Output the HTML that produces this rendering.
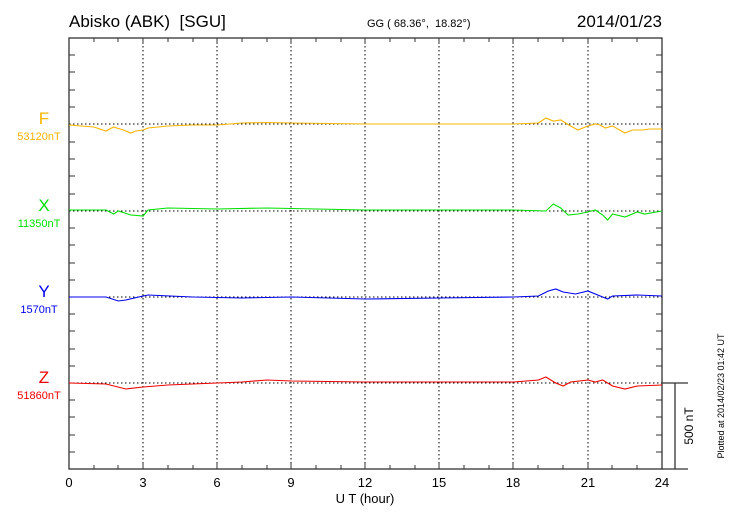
<!DOCTYPE html>
<html><head><meta charset="utf-8"><style>
body{margin:0;background:#fff}
svg{display:block;font-family:"Liberation Sans",sans-serif}
text{white-space:pre}
.s{fill:none;stroke-width:1.1;vector-effect:non-scaling-stroke}
</style></head><body>
<svg width="730" height="520" viewBox="0 0 730 520">
<text x="69" y="27" font-size="17" xml:space="preserve">Abisko (ABK)  [SGU]</text>
<text x="367" y="27" font-size="11" xml:space="preserve">GG ( 68.36°,  18.82°)</text>
<text x="662" y="27" font-size="17" text-anchor="end">2014/01/23</text>
<g stroke="#000" stroke-width="1" stroke-dasharray="1.5,2.5">
<line x1="143" y1="38" x2="143" y2="469"/><line x1="217" y1="38" x2="217" y2="469"/><line x1="291" y1="38" x2="291" y2="469"/><line x1="365" y1="38" x2="365" y2="469"/><line x1="439" y1="38" x2="439" y2="469"/><line x1="513" y1="38" x2="513" y2="469"/><line x1="588" y1="38" x2="588" y2="469"/>
<line x1="69" y1="124" x2="662" y2="124"/><line x1="69" y1="211" x2="662" y2="211"/><line x1="69" y1="297" x2="662" y2="297"/><line x1="69" y1="383" x2="662" y2="383"/>
</g>
<g stroke="#333" stroke-width="1.3" fill="none">
<rect x="69" y="38" width="593" height="431"/>
<line x1="662" y1="469" x2="688" y2="469"/>
<line x1="662" y1="383" x2="688" y2="383"/>
<line x1="675" y1="383" x2="675" y2="469"/>
</g>
<g stroke="#333" stroke-width="1">
<path d="M94 38v4M118 38v4M143 38v6M168 38v4M193 38v4M217 38v6M242 38v4M267 38v4M291 38v6M316 38v4M341 38v4M365 38v6M390 38v4M415 38v4M439 38v6M464 38v4M489 38v4M513 38v6M538 38v4M563 38v4M588 38v6M612 38v4M637 38v4
M94 469v-4M118 469v-4M143 469v-6M168 469v-4M193 469v-4M217 469v-6M242 469v-4M267 469v-4M291 469v-6M316 469v-4M341 469v-4M365 469v-6M390 469v-4M415 469v-4M439 469v-6M464 469v-4M489 469v-4M513 469v-6M538 469v-4M563 469v-4M588 469v-6M612 469v-4M637 469v-4
M69 55h6M69 72h6M69 90h6M69 107h6M69 142h6M69 159h6M69 176h6M69 194h6M69 228h6M69 245h6M69 263h6M69 280h6M69 314h6M69 331h6M69 349h6M69 366h6M69 400h6M69 417h6M69 435h6M69 452h6
M662 55h-6M662 72h-6M662 90h-6M662 107h-6M662 142h-6M662 159h-6M662 176h-6M662 194h-6M662 228h-6M662 245h-6M662 263h-6M662 280h-6M662 314h-6M662 331h-6M662 349h-6M662 366h-6M662 400h-6M662 417h-6M662 435h-6M662 452h-6"/>
</g>
<g font-size="13" text-anchor="middle">
<text x="69" y="487">0</text><text x="143" y="487">3</text><text x="217" y="487">6</text><text x="291" y="487">9</text><text x="365" y="487">12</text><text x="439" y="487">15</text><text x="513" y="487">18</text><text x="588" y="487">21</text><text x="662" y="487">24</text>
<text x="365" y="503">U T (hour)</text>
</g>
<text transform="translate(693,426) rotate(-90)" font-size="12" text-anchor="middle">500 nT</text>
<text transform="translate(724,396) rotate(-90)" font-size="9" text-anchor="middle">Plotted at 2014/02/23 01:42 UT</text>
<g font-size="17" text-anchor="middle"><text x="44" y="124" fill="#f8b400">F</text><text x="44" y="211" fill="#00e000">X</text><text x="44" y="297" fill="#0000ee">Y</text><text x="44" y="383" fill="#ee0000">Z</text></g>
<g font-size="11" text-anchor="middle"><text x="39" y="140" fill="#f8b400">53120nT</text><text x="39" y="227" fill="#00e000">11350nT</text><text x="39" y="313" fill="#0000ee">1570nT</text><text x="39" y="399" fill="#ee0000">51860nT</text></g>
<g transform="translate(69,0) scale(24.708,1)">
<polyline class="s" stroke="#f8b400" points="0,125 0.5,126 1,127 1.5,131 1.8,127 2.2,130 2.5,133 2.7,131 3,130 3.2,128 4,126 5,125 6,125 7,123 8,122.5 9,123 12,124 15,124 18,124 19,123 19.3,118 19.6,121 19.9,120 20.3,126 20.6,130 21,126 21.3,124 21.5,125 21.7,128 22,126 22.5,133 22.8,130 23.2,130 23.5,129 24,129"/>
<polyline class="s" stroke="#00e000" points="0,210 1.5,210 1.8,214 2,211 2.5,215 3,216 3.2,210 4,208 6,209 8,208 12,210 18,210 19.3,211 19.6,204 19.9,208 20.2,215 20.6,214 21,212 21.3,210 21.6,215 21.8,220 22,214 22.5,217 23,212 23.3,214 24,211"/>
<polyline class="s" stroke="#0000ee" points="0,297 1.5,297 2,301 2.3,300 3,296 3.2,295 5,297 7,298 9,297 12,299 15,298 18,297 19,296 19.4,291 19.7,289 20,292 20.5,294 21,291 21.5,296 21.8,299 22,296 23,295 24,296"/>
<polyline class="s" stroke="#ee0000" points="0,383 1.5,384 2.3,389 3,387 4,385 6,383 7,382 8,380 9,381 12,382 15,382 18,382 19,380 19.3,377 19.7,383 20,386 20.3,382 21,380 21.3,382 21.6,380 22,386 22.5,389 23,386 24,385"/>
</g>
</svg>
</body></html>
